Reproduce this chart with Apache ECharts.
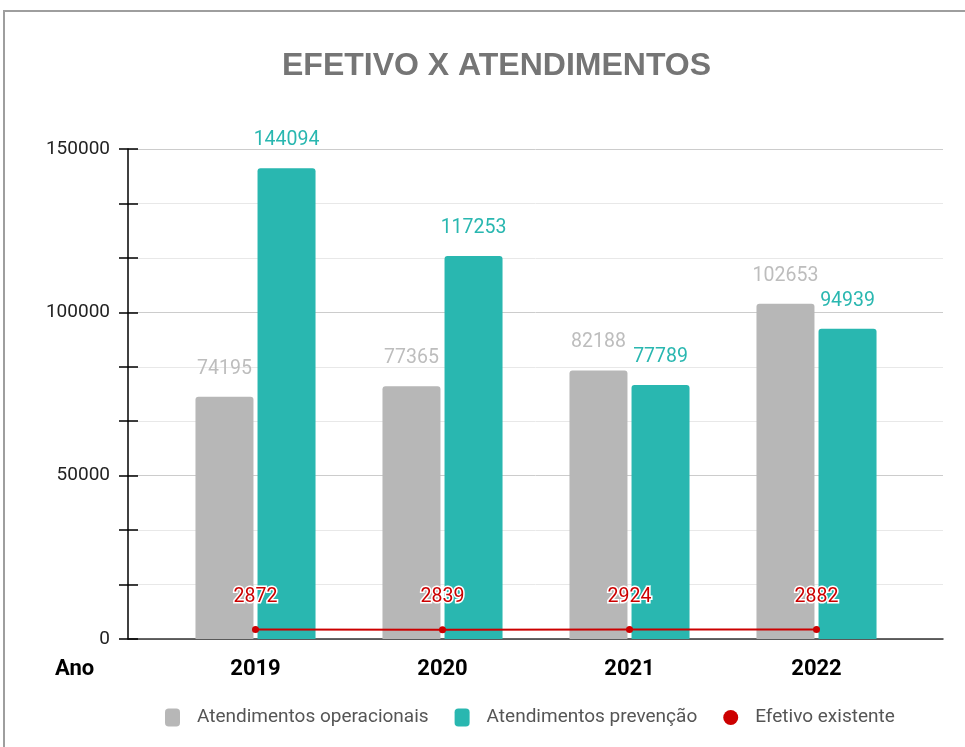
<!DOCTYPE html>
<html>
<head>
<meta charset="utf-8">
<script src="https://cdn.jsdelivr.net/npm/echarts@6/dist/echarts.min.js"></script>
<style>
    html, body {margin: 0; padding: 0; background: #fff;}
    #chart {width: 965px; height: 747px;}
</style>
</head>
<body>
<div id="chart"></div>
<script>
// dados
var anos = ['2019', '2020', '2021', '2022'];
var operacionais = [74195, 77365, 82188, 102653];
var prevencao = [144094, 117253, 77789, 94939];
var efetivo = [2872, 2839, 2924, 2882];

var cinza = '#b7b7b7';
var verde = '#29b7b0';
var vermelho = '#cc0000';

var myChart = echarts.init(document.getElementById('chart'));

myChart.setOption({
    animation: false,
    title: {
        text: 'EFETIVO X ATENDIMENTOS',
        left: 277,
        top: 45,
        textStyle: {
            fontFamily: 'Liberation Sans',
            fontWeight: 'bold',
            fontSize: 32,
            color: '#757575'
        }
    },
    graphic: [
        {
            type: 'rect',
            shape: {x: 4, y: 11, width: 1000, height: 800},
            style: {fill: 'none', stroke: '#9e9e9e', lineWidth: 2},
            silent: true
        },
        {
            type: 'text',
            left: 55,
            top: 658,
            style: {
                text: 'Ano',
                font: 'bold 22px Roboto',
                fill: '#000'
            }
        }
    ],
    legend: {
        bottom: 15,
        left: 160,
        itemGap: 26,
        itemWidth: 15,
        itemHeight: 18,
        textStyle: {
            fontFamily: 'Roboto',
            fontSize: 19,
            color: '#555',
            padding: [0, 0, 0, 12]
        },
        data: [
            {name: 'Atendimentos operacionais', icon: 'roundRect'},
            {name: 'Atendimentos prevenção', icon: 'roundRect'},
            {name: 'Efetivo existente', icon: 'circle'}
        ]
    },
    grid: [
        {left: 128, right: 22, top: 149, bottom: 108},
        {left: 162, right: 55, top: 149, bottom: 108}
    ],
    xAxis: [
        {
            type: 'value',
            gridIndex: 0,
            min: 0,
            max: 1,
            axisLine: {show: true, lineStyle: {color: '#333', width: 1.5}},
            axisTick: {show: false},
            axisLabel: {show: false},
            splitLine: {show: false}
        },
        {
            type: 'category',
            gridIndex: 1,
            data: anos,
            axisLine: {show: false},
            axisTick: {show: false},
            axisLabel: {
                margin: 19,
                fontFamily: 'Roboto',
                fontWeight: 'bold',
                fontSize: 22,
                color: '#000'
            }
        }
    ],
    yAxis: [
        {
            type: 'value',
            gridIndex: 0,
            min: 0,
            max: 150000,
            interval: 50000,
            axisLine: {show: true, lineStyle: {color: '#000', width: 1.5}},
            axisTick: {show: true, length: 9, lineStyle: {color: '#000', width: 1.5}},
            minorTick: {show: true, splitNumber: 3, length: 9, lineStyle: {color: '#000', width: 1.5}},
            axisLabel: {
                margin: 18,
                fontFamily: 'Roboto',
                fontSize: 19,
                color: '#222',
                formatter: function (v) { return String(v); }
            },
            splitLine: {lineStyle: {color: '#cccccc'}},
            minorSplitLine: {show: true, lineStyle: {color: '#e8e8e8'}}
        },
        {
            type: 'value',
            gridIndex: 0,
            position: 'left',
            min: 0,
            max: 150000,
            interval: 50000,
            axisLine: {show: false},
            axisTick: {show: true, inside: true, length: 10, lineStyle: {color: '#000', width: 1.5}},
            minorTick: {show: true, splitNumber: 3, length: 10, lineStyle: {color: '#000', width: 1.5}},
            axisLabel: {show: false},
            splitLine: {show: false}
        },
        {
            type: 'value',
            gridIndex: 1,
            min: 0,
            max: 150000,
            show: false
        }
    ],
    series: [
        {
            name: 'Atendimentos operacionais',
            type: 'bar',
            xAxisIndex: 1,
            yAxisIndex: 2,
            barWidth: 58,
            barGap: '7%',
            itemStyle: {color: cinza, borderRadius: [3, 3, 0, 0]},
            label: {
                show: true,
                position: 'top',
                distance: 18,
                fontFamily: 'Roboto',
                fontSize: 19.5,
                color: '#bdbdbd'
            },
            data: operacionais
        },
        {
            name: 'Atendimentos prevenção',
            type: 'bar',
            xAxisIndex: 1,
            yAxisIndex: 2,
            barWidth: 58,
            barGap: '7%',
            itemStyle: {color: verde, borderRadius: [3, 3, 0, 0]},
            label: {
                show: true,
                position: 'top',
                distance: 18,
                fontFamily: 'Roboto',
                fontSize: 19.5,
                color: verde
            },
            data: prevencao
        },
        {
            name: 'Efetivo existente',
            type: 'line',
            xAxisIndex: 1,
            yAxisIndex: 2,
            symbol: 'circle',
            symbolSize: 7,
            lineStyle: {color: vermelho, width: 2},
            itemStyle: {color: vermelho},
            label: {
                show: true,
                position: 'top',
                distance: 19,
                fontFamily: 'Roboto',
                fontSize: 19.5,
                color: vermelho,
                textBorderColor: '#fff',
                textBorderWidth: 3
            },
            z: 5,
            data: efetivo
        }
    ]
});
</script>
</body>
</html>
